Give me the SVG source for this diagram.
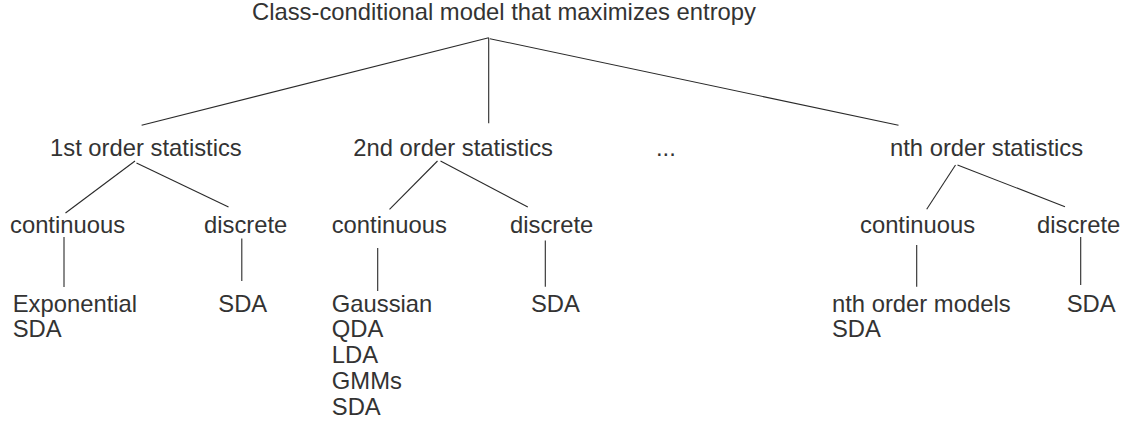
<svg xmlns="http://www.w3.org/2000/svg" width="1129" height="424" viewBox="0 0 1129 424">
<style>
text{font-family:"Liberation Sans",Arial,Helvetica,sans-serif;font-size:23.8px;fill:#333333}
.c line{stroke:#2a2a2a;stroke-width:1.1;fill:none}
</style>
<rect width="1129" height="424" fill="#ffffff"/>
<g class="c" id="connectors">
<line x1="488.7" y1="37.7" x2="141.6" y2="125.3"/>
<line x1="488.7" y1="37.7" x2="488.7" y2="123.3"/>
<line x1="489.9" y1="38.7" x2="898.5" y2="125.3"/>
<line x1="135" y1="161" x2="65.5" y2="213"/>
<line x1="136.5" y1="163" x2="228.5" y2="207"/>
<line x1="437.5" y1="161" x2="389.5" y2="209.3"/>
<line x1="440.5" y1="161" x2="527.8" y2="207"/>
<line x1="955.5" y1="165" x2="926.7" y2="209.3"/>
<line x1="957.5" y1="165" x2="1065" y2="206.7"/>
<line x1="64" y1="237" x2="64" y2="287"/>
<line x1="241.8" y1="238.5" x2="241.8" y2="281"/>
<line x1="377.7" y1="248" x2="377.7" y2="291"/>
<line x1="545.3" y1="240.5" x2="545.3" y2="286.7"/>
<line x1="916.7" y1="245" x2="916.7" y2="286.7"/>
<line x1="1080.7" y1="237" x2="1080.7" y2="285"/>
</g>
<g id="root"><text x="252" y="20">Class-conditional model that maximizes entropy</text></g>
<g id="o1"><text x="50" y="156">1st order statistics</text></g>
<g id="o2"><text x="353.3" y="156">2nd order statistics</text></g>
<g id="dots"><text x="656" y="156">...</text></g>
<g id="on"><text x="890" y="156">nth order statistics</text></g>
<g id="c1"><text x="10" y="232.5">continuous</text></g>
<g id="d1"><text x="204" y="232.5">discrete</text></g>
<g id="c2"><text x="331.7" y="232.5">continuous</text></g>
<g id="d2"><text x="510" y="232.5">discrete</text></g>
<g id="cn"><text x="860" y="232.5">continuous</text></g>
<g id="dn"><text x="1037" y="232.5">discrete</text></g>
<g id="l1"><text x="12.7" y="311.5">Exponential</text><text x="12.7" y="337.3">SDA</text></g>
<g id="l2"><text x="218.3" y="311.5">SDA</text></g>
<g id="l3"><text x="331.8" y="311.5">Gaussian</text><text x="331.8" y="337.3">QDA</text><text x="331.8" y="363.1">LDA</text><text x="331.8" y="388.9">GMMs</text><text x="331.8" y="414.7">SDA</text></g>
<g id="l4"><text x="531" y="311.5">SDA</text></g>
<g id="l5"><text x="832" y="311.5">nth order models</text><text x="832" y="337.3">SDA</text></g>
<g id="l6"><text x="1066.7" y="311.5">SDA</text></g>
</svg>
